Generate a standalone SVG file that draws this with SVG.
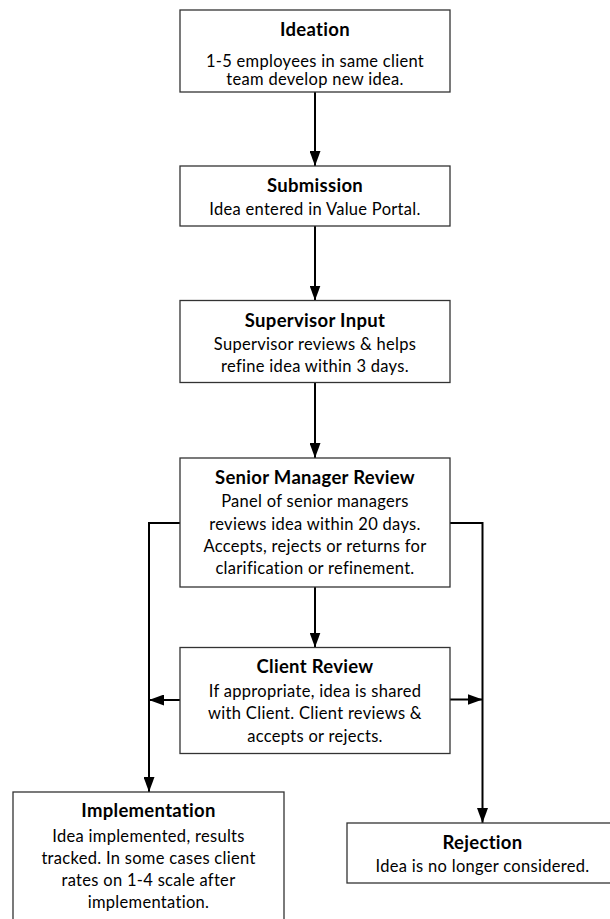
<svg xmlns="http://www.w3.org/2000/svg" width="610" height="919" viewBox="0 0 610 919">
<style>
.box{fill:#fff;stroke:#333;stroke-width:1.3}
.t{font-family:Lato,"Liberation Sans",sans-serif;font-weight:bold;font-size:18.5px;letter-spacing:0.3px;text-anchor:middle;fill:#000}
.b{font-family:Lato,"Liberation Sans",sans-serif;font-size:16.5px;letter-spacing:0.3px;text-anchor:middle;fill:#000}
.c{fill:none;stroke:#000;stroke-width:2}
</style>
<defs>
<marker id="ah" markerUnits="userSpaceOnUse" markerWidth="15" markerHeight="11" refX="15" refY="5.5" orient="auto">
<path d="M0,0 L15,5.5 L0,11 z" fill="#000"/>
</marker>
</defs>
<rect width="610" height="919" fill="#fff"/>
<g id="connectors">
<line class="c" x1="315" y1="92" x2="315" y2="166" marker-end="url(#ah)"/>
<line class="c" x1="315" y1="226" x2="315" y2="300.5" marker-end="url(#ah)"/>
<line class="c" x1="315" y1="382.5" x2="315" y2="458" marker-end="url(#ah)"/>
<line class="c" x1="315" y1="587" x2="315" y2="647.5" marker-end="url(#ah)"/>
<polyline class="c" points="180,523 149,523 149,792" marker-end="url(#ah)"/>
<polyline class="c" points="450,523 482.5,523 482.5,823" marker-end="url(#ah)"/>
<line class="c" x1="180" y1="700" x2="149" y2="700" marker-end="url(#ah)"/>
<line class="c" x1="450" y1="699.5" x2="482.5" y2="699.5" marker-end="url(#ah)"/>
</g>
<g id="ideation">
<rect class="box" x="180" y="10" width="270" height="82"/>
<text class="t" x="315" y="36">Ideation</text>
<text class="b" x="315" y="66.5">1-5 employees in same client</text>
<text class="b" x="315" y="85">team develop new idea.</text>
</g>
<g id="submission">
<rect class="box" x="180" y="166" width="270" height="60"/>
<text class="t" x="315" y="191.5">Submission</text>
<text class="b" x="315" y="215">Idea entered in Value Portal.</text>
</g>
<g id="supervisor">
<rect class="box" x="180" y="300.5" width="270" height="82"/>
<text class="t" x="315" y="326.5">Supervisor Input</text>
<text class="b" x="315" y="349.5">Supervisor reviews &amp; helps</text>
<text class="b" x="315" y="371.5">refine idea within 3 days.</text>
</g>
<g id="senior">
<rect class="box" x="180" y="458" width="270" height="129"/>
<text class="t" x="315" y="484">Senior Manager Review</text>
<text class="b" x="315" y="507">Panel of senior managers</text>
<text class="b" x="315" y="529.5">reviews idea within 20 days.</text>
<text class="b" x="315" y="552">Accepts, rejects or returns for</text>
<text class="b" x="315" y="574">clarification or refinement.</text>
</g>
<g id="client">
<rect class="box" x="180" y="647.5" width="270" height="106"/>
<text class="t" x="315" y="672.5">Client Review</text>
<text class="b" x="315" y="696.5">If appropriate, idea is shared</text>
<text class="b" x="315" y="719">with Client. Client reviews &amp;</text>
<text class="b" x="315" y="741.5">accepts or rejects.</text>
</g>
<g id="implementation">
<rect class="box" x="13" y="792" width="271" height="140"/>
<text class="t" x="148.5" y="816.5">Implementation</text>
<text class="b" x="148.5" y="841.5">Idea implemented, results</text>
<text class="b" x="148.5" y="863.5">tracked. In some cases client</text>
<text class="b" x="148.5" y="886">rates on 1-4 scale after</text>
<text class="b" x="148.5" y="908">implementation.</text>
</g>
<g id="rejection">
<rect class="box" x="347" y="823" width="272" height="60"/>
<text class="t" x="482.5" y="849">Rejection</text>
<text class="b" x="482.5" y="871.5">Idea is no longer considered.</text>
</g>
</svg>
